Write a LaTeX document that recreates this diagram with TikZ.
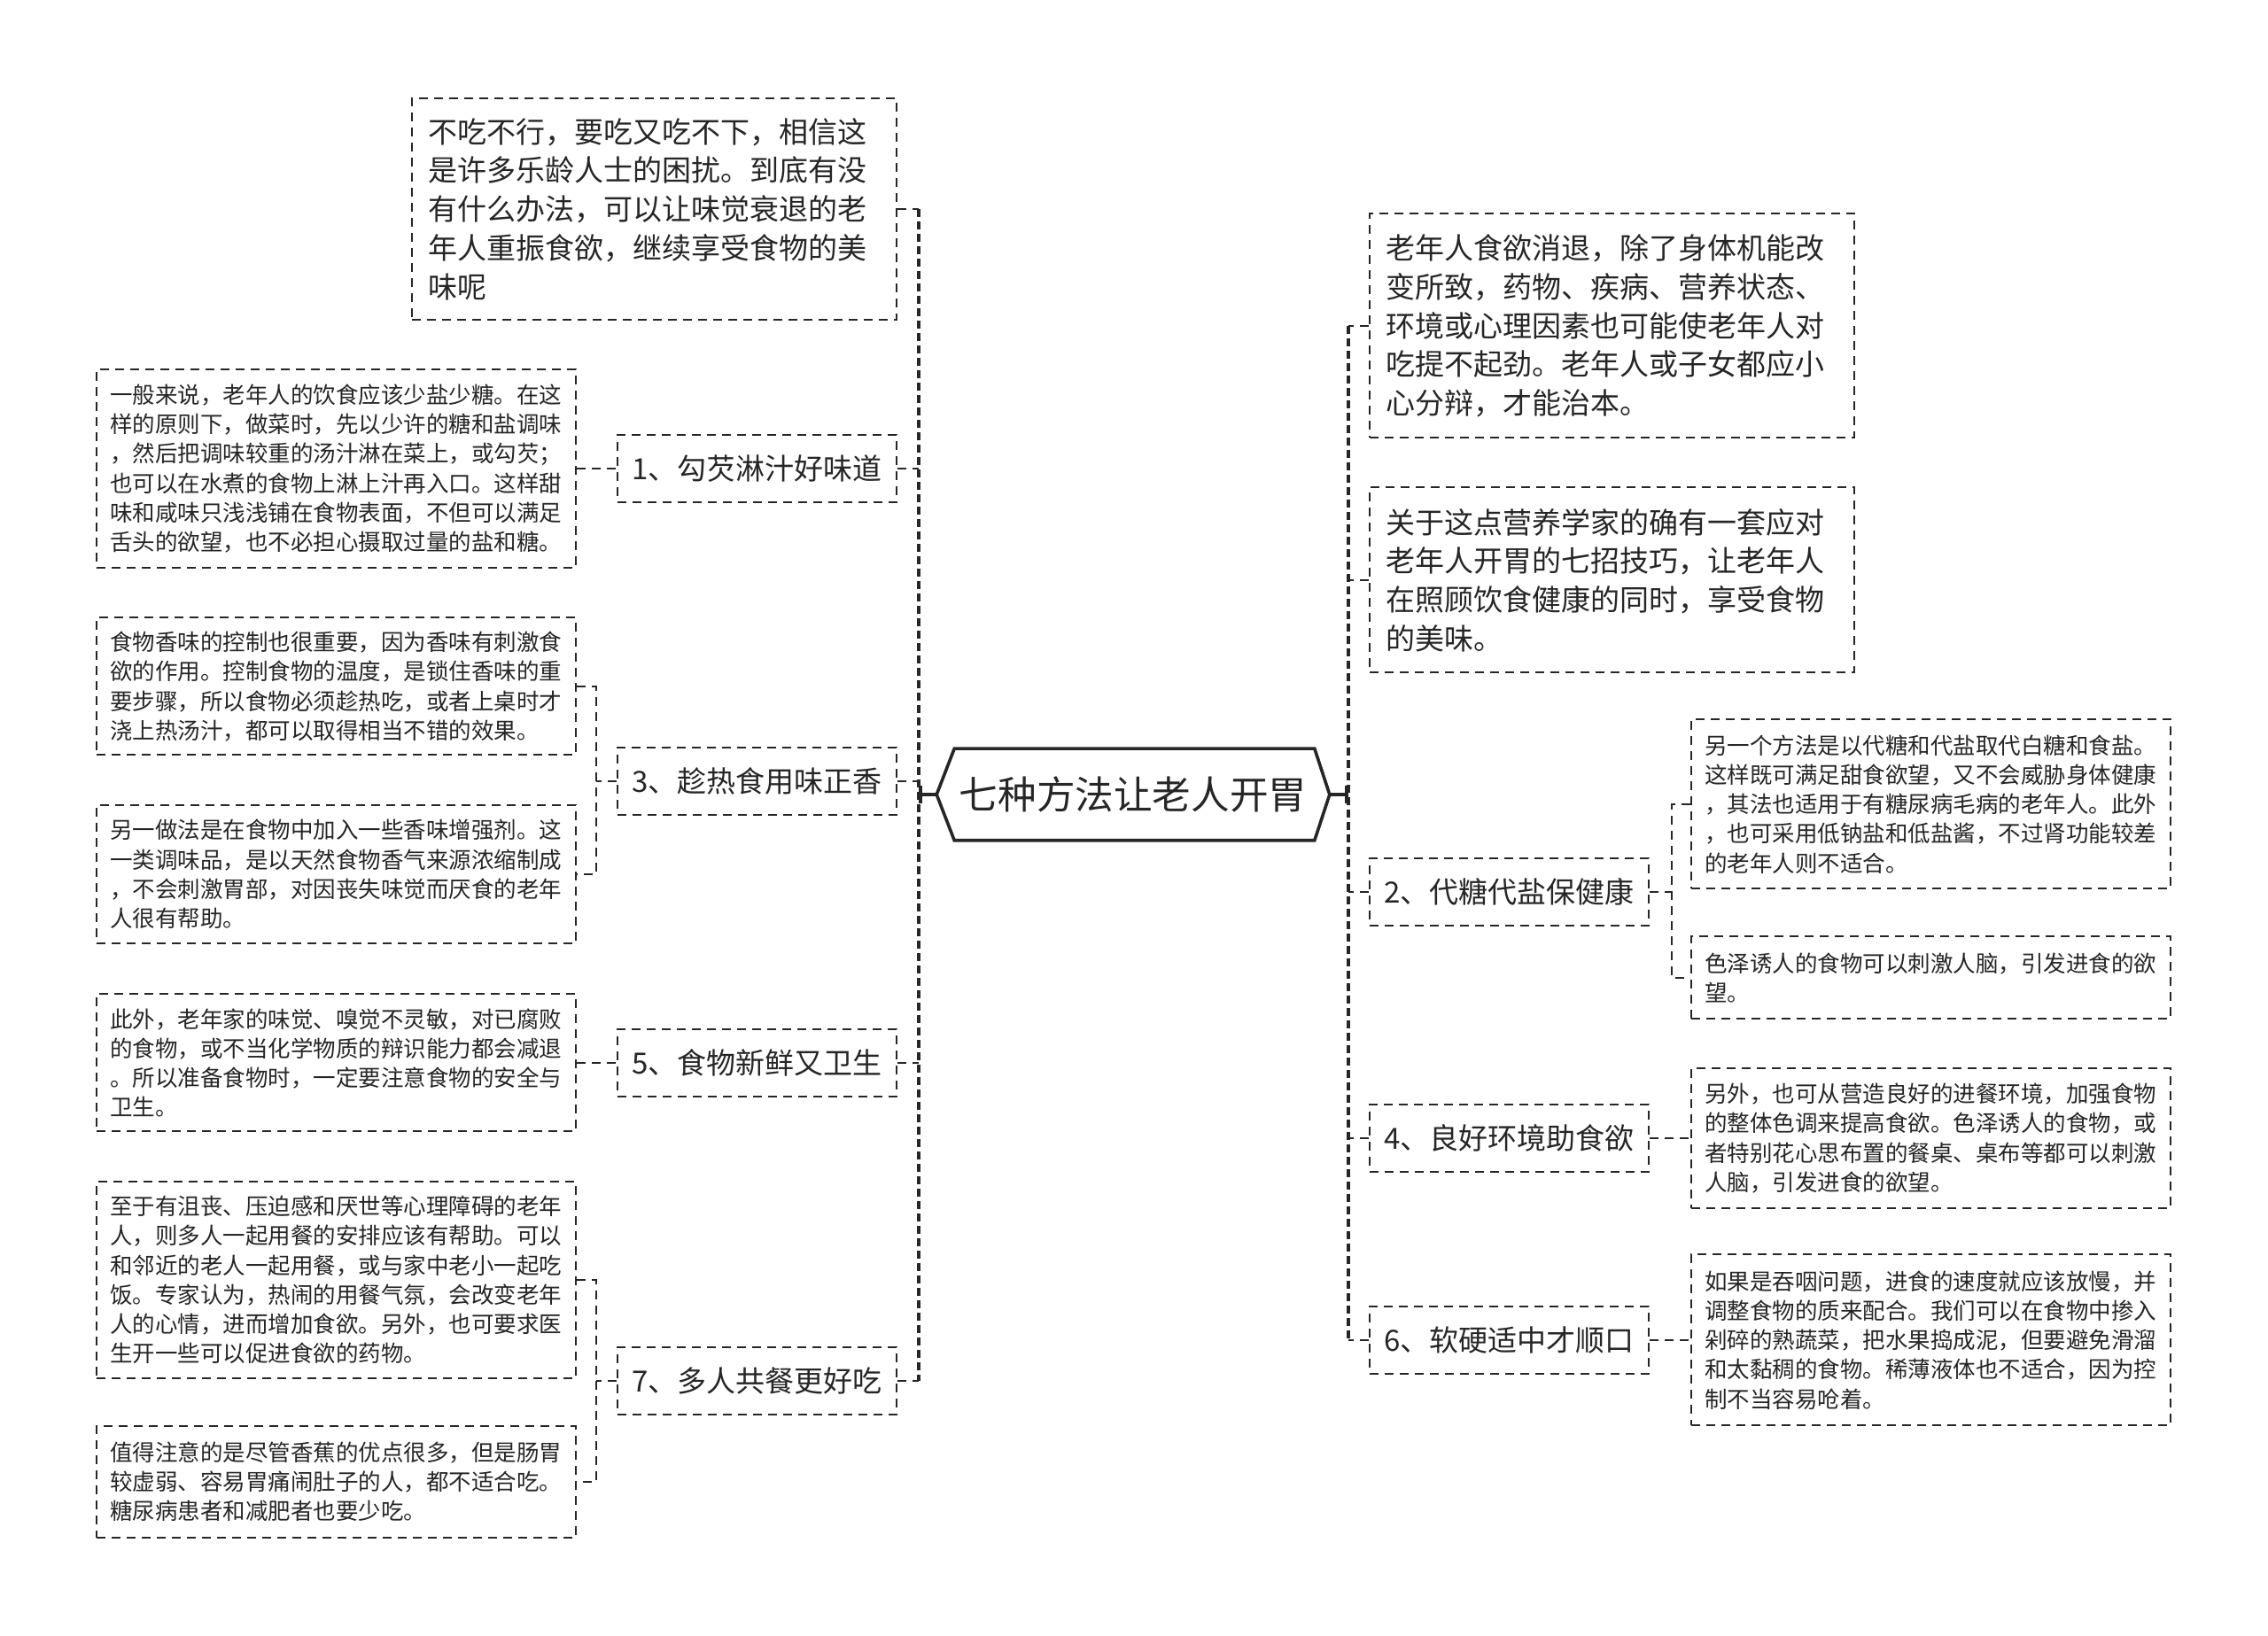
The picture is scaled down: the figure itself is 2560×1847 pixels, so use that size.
\documentclass[tikz,border=0pt]{standalone}
\usepackage{fontspec}
\newfontfamily\cjk{Noto Sans CJK SC}
\usetikzlibrary{calc,arrows.meta}
\definecolor{ink}{HTML}{262626}
\tikzset{
  dbox/.style={draw=ink, line width=0.5pt, dash pattern=on 2.5pt off 1.75pt, text=ink, inner ysep=0pt, align=left},
  bigbox/.style={dbox, font=\cjk\fontsize{8.25pt}{10.93pt}\selectfont, text width=127.75pt, inner xsep=4.5pt, minimum width=136.75pt},
  smallbox/.style={dbox, font=\cjk\fontsize{6.375pt}{8.3pt}\selectfont, text width=127.75pt, inner xsep=3.75pt, minimum width=135.25pt},
  topic/.style={draw=ink, line width=0.5pt, dash pattern=on 2.5pt off 1.75pt, text=ink, font=\cjk\fontsize{8.25pt}{10.93pt}\selectfont, minimum width=78.75pt, minimum height=19pt, inner sep=0pt, align=center},
  conn/.style={draw=ink, line width=0.5pt, dash pattern=on 2.5pt off 1.75pt},
  trunk/.style={draw=ink, line width=1pt, dash pattern=on 2.25pt off 1.25pt},
}
\begin{document}
\begin{tikzpicture}[x=0.25pt, y=-0.25pt]
\fill[white] (0,0) rectangle (2560,1847);
\useasboundingbox (0,0) rectangle (2560,1847);

% center
\node[font=\cjk\fontsize{10.9pt}{12pt}\selectfont, text=ink, minimum width=110.5pt, minimum height=25.5pt, inner sep=0pt] (c) at (1279,897) {七种方法让老人开胃};
\draw[ink, line width=0.9pt] (c.west) -- ($(c.north west)+(20,0)$) -- ($(c.north east)+(-17,0)$) -- (c.east) -- ($(c.south east)+(-17,0)$) -- ($(c.south west)+(20,0)$) -- cycle;
\coordinate (lt) at (1037,897);
\coordinate (rt) at (1522,897);

% left side
\node[bigbox, minimum height=62.5pt] (intro) at (738.5,236) {不吃不行，要吃又吃不下，相信这\\是许多乐龄人士的困扰。到底有没\\有什么办法，可以让味觉衰退的老\\年人重振食欲，继续享受食物的美\\味呢};

\node[topic] (t1) at (854.5,529) {1、勾芡淋汁好味道};
\node[smallbox, minimum height=56pt] (d1) at (379.5,529) {一般来说，老年人的饮食应该少盐少糖。在这\\样的原则下，做菜时，先以少许的糖和盐调味\\，然后把调味较重的汤汁淋在菜上，或勾芡；\\也可以在水煮的食物上淋上汁再入口。这样甜\\味和咸味只浅浅铺在食物表面，不但可以满足\\舌头的欲望，也不必担心摄取过量的盐和糖。};

\node[topic] (t3) at (854.5,882) {3、趁热食用味正香};
\node[smallbox, minimum height=38.75pt] (d3a) at (379.5,775) {食物香味的控制也很重要，因为香味有刺激食\\欲的作用。控制食物的温度，是锁住香味的重\\要步骤，所以食物必须趁热吃，或者上桌时才\\浇上热汤汁，都可以取得相当不错的效果。};
\node[smallbox, minimum height=39pt] (d3b) at (379.5,987) {另一做法是在食物中加入一些香味增强剂。这\\一类调味品，是以天然食物香气来源浓缩制成\\，不会刺激胃部，对因丧失味觉而厌食的老年\\人很有帮助。};

\node[topic] (t5) at (854.5,1200) {5、食物新鲜又卫生};
\node[smallbox, minimum height=38.75pt] (d5) at (379.5,1200) {此外，老年家的味觉、嗅觉不灵敏，对已腐败\\的食物，或不当化学物质的辩识能力都会减退\\。所以准备食物时，一定要注意食物的安全与\\卫生。};

\node[topic] (t7) at (854.5,1559) {7、多人共餐更好吃};
\node[smallbox, minimum height=55.5pt] (d7a) at (379.5,1445) {至于有沮丧、压迫感和厌世等心理障碍的老年\\人，则多人一起用餐的安排应该有帮助。可以\\和邻近的老人一起用餐，或与家中老小一起吃\\饭。专家认为，热闹的用餐气氛，会改变老年\\人的心情，进而增加食欲。另外，也可要求医\\生开一些可以促进食欲的药物。};
\node[smallbox, minimum height=31.5pt] (d7b) at (379.5,1673) {值得注意的是尽管香蕉的优点很多，但是肠胃\\较虚弱、容易胃痛闹肚子的人，都不适合吃。\\糖尿病患者和减肥者也要少吃。};

% right side
\node[bigbox, minimum height=63.25pt] (r1) at (1819.5,368) {老年人食欲消退，除了身体机能改\\变所致，药物、疾病、营养状态、\\环境或心理因素也可能使老年人对\\吃提不起劲。老年人或子女都应小\\心分辩，才能治本。};
\node[bigbox, minimum height=52.25pt] (r2) at (1819.5,655) {关于这点营养学家的确有一套应对\\老年人开胃的七招技巧，让老年人\\在照顾饮食健康的同时，享受食物\\的美味。};

\node[topic] (t2) at (1703.5,1007) {2、代糖代盐保健康};
\node[smallbox, minimum height=47.75pt] (d2a) at (2179.5,908) {另一个方法是以代糖和代盐取代白糖和食盐。\\这样既可满足甜食欲望，又不会威胁身体健康\\，其法也适用于有糖尿病毛病的老年人。此外\\，也可采用低钠盐和低盐酱，不过肾功能较差\\的老年人则不适合。};
\node[smallbox, minimum height=23.25pt] (d2b) at (2179.5,1104) {色泽诱人的食物可以刺激人脑，引发进食的欲\\望。};

\node[topic] (t4) at (1703.5,1285) {4、良好环境助食欲};
\node[smallbox, minimum height=39.5pt] (d4) at (2179.5,1285) {另外，也可从营造良好的进餐环境，加强食物\\的整体色调来提高食欲。色泽诱人的食物，或\\者特别花心思布置的餐桌、桌布等都可以刺激\\人脑，引发进食的欲望。};

\node[topic] (t6) at (1703.5,1513) {6、软硬适中才顺口};
\node[smallbox, minimum height=48.25pt] (d6) at (2179.5,1513) {如果是吞咽问题，进食的速度就应该放慢，并\\调整食物的质来配合。我们可以在食物中掺入\\剁碎的熟蔬菜，把水果捣成泥，但要避免滑溜\\和太黏稠的食物。稀薄液体也不适合，因为控\\制不当容易呛着。};

% trunks
\draw[trunk] (lt |- intro.east) -- (lt |- t7.east);
\draw[trunk] (rt |- r1.west) -- (rt |- t6.west);
\draw[ink, line width=0.9pt, -{Bar[width=5pt]}] (c.west) -- (lt);
\draw[ink, line width=0.9pt, -{Bar[width=5pt]}] (c.east) -- (rt);

% trunk connectors
\foreach \n in {intro,t1,t3,t5,t7} \draw[conn] (\n.east) -- (\n.east -| lt);
\foreach \n in {r1,r2,t2,t4,t6} \draw[conn] (\n.west) -- (\n.west -| rt);

% brackets
\coordinate (bl) at (673,897);
\coordinate (br) at (1887,897);
\draw[conn] (d1.east) -- (t1.west);
\draw[conn] (d5.east) -- (t5.west);
\draw[conn] (t3.west) -- (t3.west -| bl);
\draw[conn] (d3a.east) -- (d3a.east -| bl) -- (d3b.east -| bl) -- (d3b.east);
\draw[conn] (t7.west) -- (t7.west -| bl);
\draw[conn] (d7a.east) -- (d7a.east -| bl) -- (d7b.east -| bl) -- (d7b.east);
\draw[conn] (t4.east) -- (d4.west);
\draw[conn] (t6.east) -- (d6.west);
\draw[conn] (t2.east) -- (t2.east -| br);
\draw[conn] (d2a.west) -- (d2a.west -| br) -- (d2b.west -| br) -- (d2b.west);
\end{tikzpicture}
\end{document}
